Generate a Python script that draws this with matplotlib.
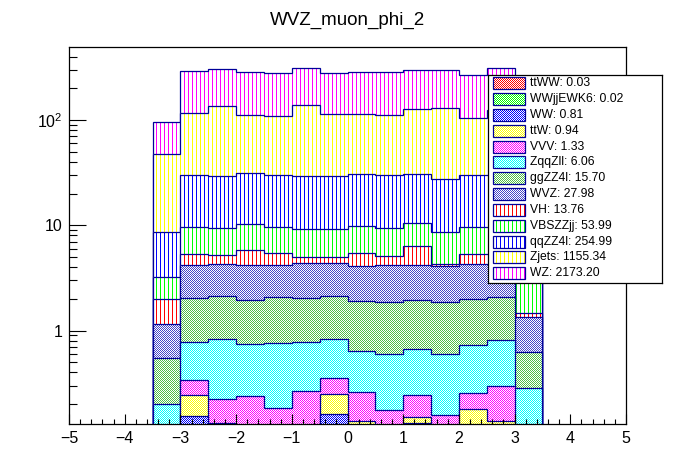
import numpy as np
import matplotlib
matplotlib.use("Agg")
import matplotlib.pyplot as plt
from matplotlib.patches import Rectangle
from matplotlib.colors import to_rgb
from matplotlib.ticker import FixedLocator, FuncFormatter, NullFormatter, LogLocator, MultipleLocator

plt.rcParams['font.family'] = ['Liberation Sans', 'DejaVu Sans']
plt.rcParams['mathtext.fontset'] = 'custom'
plt.rcParams['mathtext.rm'] = 'Liberation Sans'

# bins of muon phi, width 0.5
edges = np.linspace(-3.5, 3.5, 15)

# per-sample bin contents, stack order bottom -> top
ttww = [0.001, 0.002, 0.001, 0.002, 0.002, 0.002, 0.002, 0.003, 0.002, 0.002, 0.002, 0.002, 0.002, 0.001]
wwjjewk6 = [0.001, 0.001, 0.001, 0.002, 0.002, 0.002, 0.001, 0.002, 0.002, 0.001, 0.002, 0.002, 0.001, 0.001]
ww = [0.005, 0.152, 0.06, 0.05, 0.05, 0.05, 0.159, 0.01, 0.05, 0.13, 0.05, 0.02, 0.01, 0.005]
ttw = [0.008, 0.091, 0.07, 0.047, 0.047, 0.047, 0.089, 0.123, 0.047, 0.019, 0.047, 0.157, 0.125, 0.01]
vvv = [0.015, 0.096, 0.094, 0.136, 0.081, 0.163, 0.106, 0.125, 0.074, 0.094, 0.056, 0.076, 0.157, 0.01]
zqqzll = [0.17, 0.444, 0.613, 0.50, 0.571, 0.506, 0.482, 0.369, 0.417, 0.428, 0.435, 0.479, 0.514, 0.256]
ggzz4l = [0.344, 1.229, 1.266, 1.193, 1.307, 1.246, 1.266, 1.255, 1.255, 1.255, 1.255, 1.248, 1.25, 0.345]
wvz = [0.598, 2.135, 2.135, 2.221, 2.091, 2.32, 2.23, 2.171, 2.304, 2.221, 2.212, 2.256, 2.20, 0.703]
vh = [0.83, 1.13, 0.92, 1.61, 1.25, 0.605, 0.605, 1.342, 0.90, 2.14, 0.18, 1.04, 1.04, 0.141]
vbszzjj = [1.22, 4.25, 4.16, 4.42, 4.13, 4.18, 4.18, 4.34, 4.27, 4.11, 4.30, 4.25, 4.30, 1.54]
qqzz4l = [5.35, 20.21, 19.78, 20.90, 20.21, 19.98, 19.98, 20.66, 20.42, 20.00, 18.71, 20.21, 20.34, 8.2]
zjets = [38.56, 85.76, 105.6, 79.5, 78.46, 108.5, 83.9, 82.6, 80.86, 95.7, 101.65, 73.76, 95.0, 45.0]
wz = [47.8, 174.2, 168.0, 172.9, 169.1, 171.8, 164.3, 170.5, 172.9, 170.0, 167.2, 162.0, 186.5, 76.0]

names = ['ttWW', 'WWjjEWK6', 'WW', 'ttW', 'VVV', 'ZqqZll', 'ggZZ4l', 'WVZ',
         'VH', 'VBSZZjj', 'qqZZ4l', 'Zjets', 'WZ']
totals = [0.03, 0.02, 0.81, 0.94, 1.33, 6.06, 15.70, 27.98, 13.76, 53.99, 254.99, 1155.34, 2173.20]
colors = ['#ff0000', '#00ff00', '#0000ff', '#ffff00', '#ff00ff', '#00ffff', '#50be46', '#4646c8',
          '#ff0000', '#00ff00', '#0000ff', '#ffff00', '#ff00ff']
# ROOT fill styles: fine checker for the small ones, vertical lines for the big ones
styles = ['checker'] * 8 + ['vlines'] * 5

layers = [ttww, wwjjewk6, ww, ttw, vvv, zqqzll, ggzz4l, wvz, vh, vbszzjj, qqzz4l, zjets, wz]
navy = '#000099'

W, H = 696, 472


def pattern(color, kind, ncols, nrows, x0, y0):
    # pixel pattern in figure pixel coords so it lines up 1:1
    rr, cc = np.indices((nrows, ncols))
    rr = rr + y0
    cc = cc + x0
    if kind == 'checker':
        mask = (rr + cc) % 2 == 0
    else:
        mask = cc % 4 == 0
    img = np.ones((nrows, ncols, 3))
    img[mask] = to_rgb(color)
    return img


fig = plt.figure(figsize=(W / 100, H / 100), dpi=100)
ax_l, ax_r, ax_t, ax_b = 69, 626, 47, 424
ax = fig.add_axes([ax_l / W, 1 - ax_b / H, (ax_r - ax_l) / W, (ax_b - ax_t) / H])
ax.set_yscale('log')

cum = np.cumsum(np.array(layers), axis=0)
base = 1e-4
z = 1.0
# draw from the top of the stack down, like THStack
for i in reversed(range(len(layers))):
    clip = ax.stairs(cum[i], edges, baseline=base, fill=True)
    clip.set_visible(False)
    img = pattern(colors[i], styles[i], ax_r - ax_l, ax_b - ax_t, ax_l, ax_t)
    im = ax.imshow(img, extent=(0, 1, 0, 1), transform=ax.transAxes, origin='upper',
                   interpolation='nearest', aspect='auto', zorder=z)
    im.set_clip_path(clip)
    ax.stairs(cum[i], edges, baseline=base, color=navy, linewidth=0.9, zorder=z + 0.001)
    z += 0.01

ax.set_xlim(-5, 5)
ax.set_ylim(0.1294, 493)

ax.xaxis.set_major_locator(MultipleLocator(1))
ax.xaxis.set_minor_locator(MultipleLocator(0.2))
ax.yaxis.set_major_locator(FixedLocator([1, 10, 100]))
ax.yaxis.set_major_formatter(FuncFormatter(
    lambda v, p: {1: '1', 10: '10', 100: r'$\mathregular{10^{2}}$'}.get(int(round(v)), '')))
ax.yaxis.set_minor_locator(LogLocator(base=10, subs=np.arange(2, 10)))
ax.yaxis.set_minor_formatter(NullFormatter())

ax.tick_params(which='both', direction='in', top=False, right=False, width=0.8, labelsize=11.5)
ax.tick_params(axis='x', which='major', length=7.4, pad=5)
ax.tick_params(axis='x', which='minor', length=3.6)
ax.tick_params(axis='y', which='major', length=12.2, pad=4.5)
ax.tick_params(axis='y', which='minor', length=6)
for s in ax.spines.values():
    s.set_linewidth(0.9)
    s.set_zorder(5)

fig.text(0.5, 1 - 20 / H, 'WVZ_muon_phi_2', ha='center', va='center', fontsize=13.5)

# legend box
lx0, ly0, lx1, ly1 = 488, 75, 662, 283
lax = fig.add_axes([lx0 / W, 1 - ly1 / H, (lx1 - lx0) / W, (ly1 - ly0) / H])
lax.set_xlim(0, lx1 - lx0)
lax.set_ylim(ly1 - ly0, 0)
lax.set_xticks([])
lax.set_yticks([])
for s in lax.spines.values():
    s.set_linewidth(0.9)
    s.set_color('black')

for i, name in enumerate(names):
    yc = 8.3 + i * 15.83
    box = Rectangle((5, yc - 6), 31.6, 12, facecolor='none', edgecolor=navy, linewidth=0.9, zorder=3)
    lax.add_patch(box)
    img = pattern(colors[i], styles[i], lx1 - lx0, ly1 - ly0, lx0, ly0)
    im = lax.imshow(img, extent=(0, lx1 - lx0, ly1 - ly0, 0), origin='upper',
                    interpolation='nearest', aspect='auto', zorder=2)
    im.set_clip_path(box)
    lax.text(42.3, yc, f'{name}: {totals[i]:.2f}', va='center', ha='left', fontsize=8.7)

lax.set_xlim(0, lx1 - lx0)
lax.set_ylim(ly1 - ly0, 0)

fig.savefig('out.png', dpi=100)
